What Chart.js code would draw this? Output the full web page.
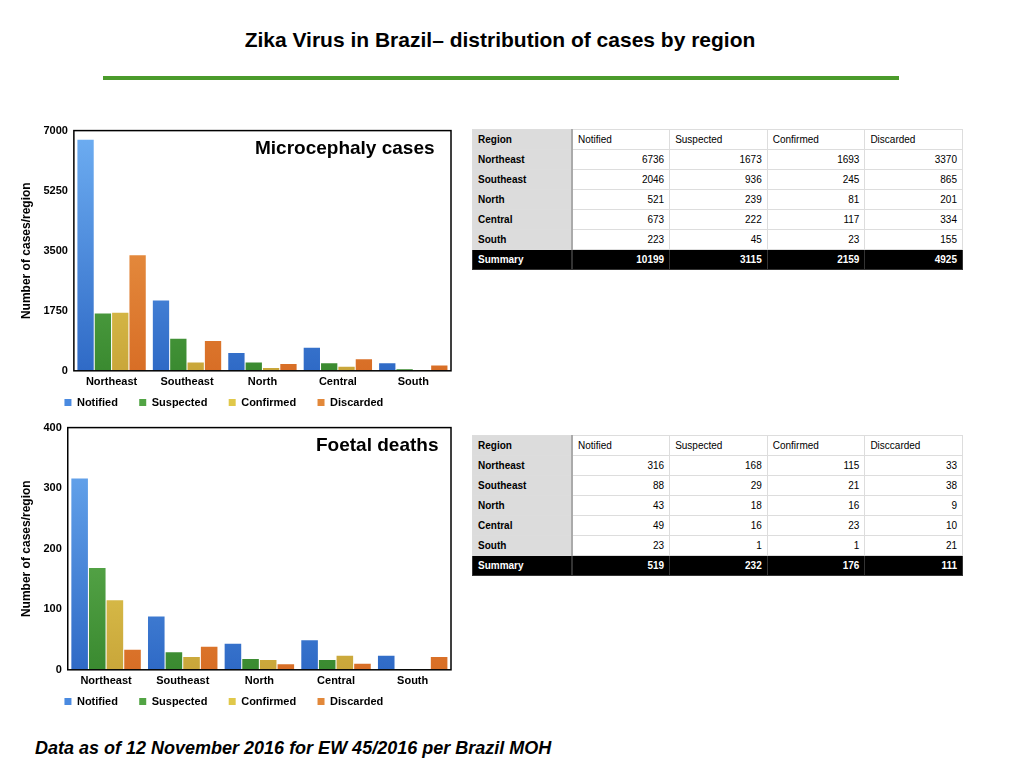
<!DOCTYPE html>
<html><head><meta charset="utf-8">
<script src="https://cdn.jsdelivr.net/npm/chart.js@4"></script>
<style>
body{margin:0;width:1024px;height:768px;background:#fff;font-family:"Liberation Sans",Arial,sans-serif;position:relative;overflow:hidden}
#title{position:absolute;top:28px;left:0;width:1000px;text-align:center;font-weight:bold;font-size:21px}
#rule{position:absolute;top:76px;left:103px;width:796px;height:4px;background:#4b9b2b}
.cw{position:absolute}
.lbl{position:absolute;font-weight:bold;font-size:19px}
table{position:absolute;border-collapse:collapse;font-size:10px;width:491px;table-layout:fixed}
td{border:1px solid #ddd;height:19px;padding:0 5px;text-align:right}
td:first-child{background:#dcdcdc;text-align:left;font-weight:bold;width:88px;border-right:2px solid #aaa}
tr.h td{text-align:left}
tr.s td{background:#000;color:#fff;font-weight:bold;border-color:#333}
#foot{position:absolute;left:35px;top:738px;font-size:18px;font-weight:bold;font-style:italic}
</style></head><body>
<div id="title">Zika Virus in Brazil– distribution of cases by region</div>
<div id="rule"></div>
<div class="cw" style="left:15px;top:118px;width:440px;height:300px"><canvas id="c1"></canvas></div>
<div class="cw" style="left:15px;top:415px;width:440px;height:302px"><canvas id="c2"></canvas></div>
<div class="lbl" style="left:255px;top:137px">Microcephaly cases</div>
<div class="lbl" style="left:316px;top:434px">Foetal deaths</div>
<table id="t1" style="left:472px;top:129px"></table>
<table id="t2" style="left:472px;top:435px"></table>
<div id="foot">Data as of 12 November 2016 for EW 45/2016 per Brazil MOH</div>
<script>
const regions = ['Northeast','Southeast','North','Central','South'];
const seriesNames = ['Notified','Suspected','Confirmed','Discarded'];
const microNotified = [6736,2046,521,673,223];
const microSuspected = [1673,936,239,222,45];
const microConfirmed = [1693,245,81,117,23];
const microDiscarded = [3370,865,201,334,155];
const microSummary = [10199,3115,2159,4925];
const foetalNotified = [316,88,43,49,23];
const foetalSuspected = [168,29,18,16,1];
const foetalConfirmed = [115,21,16,23,1];
const foetalDiscarded = [33,38,9,10,21];
const foetalSummary = [519,232,176,111];
const microTicks = [0,1750,3500,5250,7000];
const foetalTicks = [0,100,200,300,400];

const cols = [['#6eaef2','#2f6ac6'],['#72c060','#3a8a30'],['#f2e262','#c9a63a'],['#efa452','#d86e26']];
const legendCols = ['#4a8ae0','#52a444','#e0c84a','#e2883a'];

function grad(i){
  return function(ctx){
    const ch = ctx.chart, a = ch.chartArea;
    if(!a) return cols[i][1];
    const g = ch.ctx.createLinearGradient(0,a.top,0,a.bottom);
    g.addColorStop(0,cols[i][0]); g.addColorStop(1,cols[i][1]);
    return g;
  };
}

const frame = {id:'frame', afterDraw(c){
  const a=c.chartArea, x=c.ctx; x.save(); x.strokeStyle='#000'; x.lineWidth=1.5;
  x.strokeRect(a.left,a.top,a.right-a.left,a.bottom-a.top); x.restore();
}};

function makeChart(id, data, ticks, yTitle){
  const font = {family:'"Liberation Sans", Arial', weight:'bold', size:11};
  new Chart(document.getElementById(id), {
    type:'bar',
    data:{labels:regions, datasets:data.map((d,i)=>({label:seriesNames[i], data:d, backgroundColor:grad(i),
      categoryPercentage:0.92, barPercentage:0.94}))},
    options:{responsive:true, maintainAspectRatio:false, animation:false,
      layout:{padding:{right:4,top:6,bottom:0}},
      plugins:{tooltip:{enabled:false},
        legend:{position:'bottom', labels:{boxWidth:7, boxHeight:7, padding:3, color:'#000', font:font,
          generateLabels:()=>seriesNames.map((n,i)=>({text:n+'      ', fillStyle:legendCols[i], strokeStyle:legendCols[i], lineWidth:0, datasetIndex:i}))}}},
      scales:{
        x:{grid:{display:false, drawTicks:false}, border:{display:false}, ticks:{color:'#000', font:font, padding:5}},
        y:{min:ticks[0], max:ticks[ticks.length-1], afterBuildTicks:s=>{s.ticks=ticks.map(v=>({value:v}));},
          grid:{display:false, drawTicks:false}, border:{display:false},
          ticks:{color:'#000', font:font, padding:6, callback:v=>String(v)},
          title:{display:true, text:yTitle, color:'#000', font:{family:'"Liberation Sans", Arial', weight:'bold', size:12}}}
      }},
    plugins:[frame]
  });
}

makeChart('c1',[microNotified,microSuspected,microConfirmed,microDiscarded],microTicks,'Number of cases/region');
makeChart('c2',[foetalNotified,foetalSuspected,foetalConfirmed,foetalDiscarded],foetalTicks,'Number of cases/region');

function fillTable(id, head, series, summary){
  let h = '<tr class="h"><td>Region</td>'+head.map(n=>'<td>'+n+'</td>').join('')+'</tr>';
  regions.forEach((r,j)=>{ h += '<tr><td>'+r+'</td>'+series.map(s=>'<td>'+s[j]+'</td>').join('')+'</tr>'; });
  h += '<tr class="s"><td>Summary</td>'+summary.map(v=>'<td>'+v+'</td>').join('')+'</tr>';
  document.getElementById(id).innerHTML = h;
}
fillTable('t1', seriesNames, [microNotified,microSuspected,microConfirmed,microDiscarded], microSummary);
fillTable('t2', ['Notified','Suspected','Confirmed','Disccarded'], [foetalNotified,foetalSuspected,foetalConfirmed,foetalDiscarded], foetalSummary);
</script>
</body></html>
